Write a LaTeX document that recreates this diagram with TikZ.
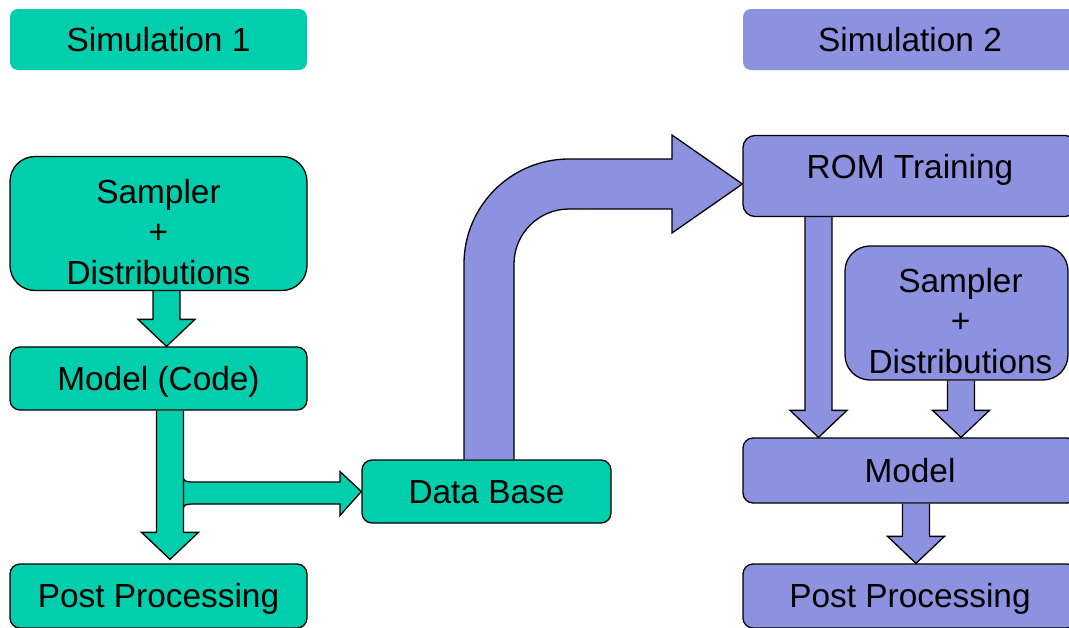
\documentclass[tikz,border=0pt]{standalone}
\usepackage{fontspec}
\setmainfont{Liberation Sans}
\usetikzlibrary{calc,backgrounds}
\definecolor{tealc}{RGB}{0,206,172}
\definecolor{purpc}{RGB}{141,146,224}
\newcommand\blkdown[4]{% #1 x centre, #2 from, #3 to (tip), #4 fill
  \path (#1,0 |- #2) coordinate (bt) (#1,0 |- #3) coordinate (bb);
  \filldraw[arrowline,fill=#4] ($(bt)+(-13.5,0)$) -- ($(bb)+(-13.5,-27)$) -- ($(bb)+(-28.5,-27)$) -- (bb)
    -- ($(bb)+(28.5,-27)$) -- ($(bb)+(13.5,-27)$) -- ($(bt)+(13.5,0)$);
}
\newcommand\rs{\hspace*{8pt}}
\begin{document}
\begin{tikzpicture}[x=1pt,y=-1pt,
  arrowline/.style={draw=black,line width=1.3pt,line join=miter},
  box/.style={draw=black,line width=1.3pt,rectangle,inner sep=0pt,
    font=\fontsize{33.4}{40.5}\selectfont,text height=23.9pt,text depth=0pt,align=center},
  title/.style={rectangle,inner sep=0pt,rounded corners=8pt,
    font=\fontsize{33.4}{40.5}\selectfont,text height=23.9pt,text depth=0pt},
  tbox/.style={box,fill=tealc},
  pbox/.style={box,fill=purpc}]
\useasboundingbox (0,0) rectangle (1069,627);
% titles
\node[title,fill=tealc,minimum width=297pt,minimum height=61pt] (t1) at (158.5,39.5) {Simulation 1};
\node[title,fill=purpc,minimum width=334pt,minimum height=61pt] (t2) at (910,39.5) {Simulation 2};
% left column
\node[tbox,rounded corners=25pt,minimum width=297pt,minimum height=134pt,text height=121pt,text depth=0pt] (s1) at (158.5,223.5) {Sampler\\+\\Distributions};
\node[tbox,rounded corners=10pt,minimum width=297pt,minimum height=63pt] (m1) at (158.5,378.5) {Model (Code)};
\node[tbox,rounded corners=10pt,minimum width=297pt,minimum height=64pt] (p1) at (158.5,596) {Post Processing};
\node[tbox,rounded corners=10pt,minimum width=249pt,minimum height=63pt] (db) at (486.5,491.5) {Data Base};
% right column
\node[pbox,rounded corners=12pt,minimum width=334pt,minimum height=81pt,text depth=18.1pt] (rom) at (910,176) {ROM Training};
\node[pbox,rounded corners=25pt,minimum width=223pt,minimum height=134pt,text height=120pt,text depth=0pt] (s2) at (956.5,313) {\rs Sampler\\\rs +\\\rs Distributions};
\node[pbox,rounded corners=10pt,minimum width=334pt,minimum height=65pt] (m2) at (910,470.5) {Model};
\node[pbox,rounded corners=10pt,minimum width=334pt,minimum height=64pt] (p2) at (910,596) {Post Processing};
\begin{scope}[on background layer]
  % branch to data base
  \coordinate (dbw) at (db.west);
  \filldraw[arrowline,fill=tealc] (183,476) .. controls (183,481) and (186,482) .. (192,482) -- (340,482) -- (340,471.5)
    -- (dbw) -- (340,515.5) -- (340,504) -- (192,504) .. controls (186,504) and (183,505) .. (183,510);
  % left block arrows
  \coordinate (p1n) at ($(p1.north)+(0,-4)$);
  \blkdown{166.5}{s1.south}{m1.north}{tealc}
  \blkdown{170}{m1.south}{p1n}{tealc}
  % big bent arrow
  \coordinate (romw) at (rom.west |- 0,184);
  \filldraw[arrowline,fill=purpc] (464,0 |- db.north) -- (464,264) .. controls (464,206) and (511,159) .. (569,159)
    -- (672,159) -- (672,135) -- (romw) -- (672,233) -- (672,209) -- (569,209)
    .. controls (538.6,209) and (514,233.6) .. (514,264) -- (514,0 |- db.north);
  % right block arrows
  \blkdown{818.5}{rom.south}{m2.north}{purpc}
  \blkdown{961}{s2.south}{m2.north}{purpc}
  \blkdown{916}{m2.south}{p2.north}{purpc}
\end{scope}
\end{tikzpicture}
\end{document}
